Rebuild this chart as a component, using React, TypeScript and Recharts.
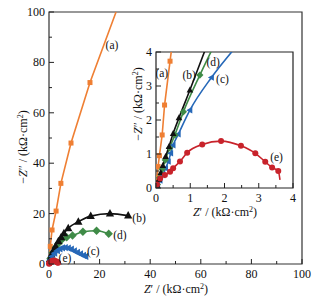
import { ComposedChart, Line, Scatter, XAxis, YAxis, ReferenceArea } from "recharts"

const FONT = "Liberation Serif, DejaVu Serif, Times New Roman, serif"

// main plot, Z' and -Z'' in kΩ·cm²
const aX = [0, 0.5, 1.2, 2.8, 4.7, 8.7, 16.2, 26.5]
const aY = [0, 7, 13.5, 21, 32, 48, 72, 100]
const bX = [0, 0.4, 1, 1.8, 2.6, 3.7, 4.8, 5.9, 7.6, 11.6, 16.5, 24.1, 31.3]
const bY = [0, 2, 3.8, 5.5, 7, 9, 10.6, 12.2, 14.2, 16.8, 19, 20, 19.2]
const cX = [0, 0.5, 1.2, 2.2, 3.3, 4.3, 5.3, 6.4, 7.6, 8.8, 10, 11.2, 12.4, 13.6, 14.5]
const cY = [0, 1.6, 3, 4.3, 5.3, 6, 6.4, 6.5, 6.3, 5.9, 5.2, 4.6, 4, 3.4, 3]
const dX = [0, 0.6, 1.5, 2.7, 3.8, 5, 7, 9.3, 13.4, 18.8, 23.6]
const dY = [0, 2.2, 4.5, 6.6, 8.2, 9.6, 10.6, 11.3, 12.8, 13.2, 12]

// inset (same units, zoomed on 0..4)
const aInX = [0, 0.03, 0.06, 0.1, 0.18, 0.25, 0.41, 0.47]
const aInY = [0, 0.3, 0.63, 0.95, 1.56, 2.44, 3.73, 4.2]
const bInX = [0.03, 0.08, 0.14, 0.2, 0.28, 0.38, 0.5, 0.67, 0.99, 1.45]
const bInY = [0.08, 0.25, 0.45, 0.66, 0.92, 1.22, 1.6, 2.06, 2.88, 4.1]
const cInX = [0.05, 0.12, 0.2, 0.28, 0.36, 0.43, 0.5, 0.65, 0.99, 1.62, 2.25]
const cInY = [0.08, 0.22, 0.38, 0.58, 0.78, 1.02, 1.26, 1.58, 2.29, 3.25, 4.05]
const dInX = [0.04, 0.1, 0.18, 0.27, 0.4, 0.55, 0.8, 1.28, 1.65]
const dInY = [0.1, 0.3, 0.55, 0.82, 1.18, 1.56, 2.24, 3.32, 4.1]
const eX = [0.03, 0.12, 0.26, 0.41, 0.5, 0.7, 0.91, 1.35, 1.9, 2.48, 2.9, 3.19, 3.39, 3.57, 3.62]
const eY = [0.1, 0.28, 0.38, 0.48, 0.58, 0.78, 1.04, 1.28, 1.38, 1.24, 1.02, 0.77, 0.6, 0.5, 0.24]

const labelT = ["(a)", "(b)", "(c)", "(d)", "(e)"]
const labelX = [24.9, 35.6, 17.5, 28, 6.3]
const labelY = [87, 18.4, 5, 11.5, 2.5]
const labelInX = [0.17, 0.97, 1.94, 1.67, 3.52]
const labelInY = [3.37, 3.32, 3.2, 3.71, 0.92]

const mainTicks = [0, 10, 20, 30, 40, 50, 60, 70, 80, 90, 100]
const insetTicks = [0, 0.5, 1, 1.5, 2, 2.5, 3, 3.5, 4]

const COLORS = { a: "#EF7F33", b: "#111111", c: "#2668B8", d: "#3F8B47", e: "#C8232B" }

const zip = (xs: number[], ys: number[]) => xs.map((x, i) => ({ x, y: ys[i] }))

function marker(shape: string, color: string, s: number, skip: number[] = []) {
  return (p: any) => {
    const { cx, cy, index } = p
    if (skip.includes(index) || cx == null || cy == null) return <g key={index} />
    if (shape === "square")
      return <rect key={index} x={cx - s / 2} y={cy - s / 2} width={s} height={s} fill={color} />
    if (shape === "up")
      return <polygon key={index} points={`${cx},${cy - s * 0.6} ${cx - s * 0.55},${cy + s * 0.4} ${cx + s * 0.55},${cy + s * 0.4}`} fill={color} />
    if (shape === "left")
      return <polygon key={index} points={`${cx - s * 0.6},${cy} ${cx + s * 0.4},${cy - s * 0.55} ${cx + s * 0.4},${cy + s * 0.55}`} fill={color} />
    if (shape === "diamond")
      return <polygon key={index} points={`${cx},${cy - s * 0.6} ${cx + s * 0.6},${cy} ${cx},${cy + s * 0.6} ${cx - s * 0.6},${cy}`} fill={color} />
    return <circle key={index} cx={cx} cy={cy} r={s / 2} fill={color} />
  }
}

const near = (v: number, step: number) => Math.abs(v / step - Math.round(v / step)) < 1e-6

function BottomTick({ x, y, payload, major }: any) {
  const isMajor = near(payload.value, major)
  return (
    <g>
      <line x1={x} y1={y} x2={x} y2={y - (isMajor ? 5 : 3)} stroke="#222" />
      {isMajor && (
        <text x={x} y={y + 14} textAnchor="middle" style={{ fontSize: 12, fontFamily: FONT }} fill="#111">
          {payload.value}
        </text>
      )}
    </g>
  )
}

function LeftTick({ x, y, payload, major }: any) {
  const isMajor = near(payload.value, major)
  return (
    <g>
      <line x1={x} y1={y} x2={x + (isMajor ? 5 : 3)} y2={y} stroke="#222" />
      {isMajor && (
        <text x={x - 4} y={y + 4} textAnchor="end" style={{ fontSize: 12, fontFamily: FONT }} fill="#111">
          {payload.value}
        </text>
      )}
    </g>
  )
}

const SeriesLabel = (p: any) => (
  <text x={p.cx} y={p.cy + 4} textAnchor="middle" style={{ fontSize: 11.5, fontFamily: FONT }} fill="#111">
    {p.payload.t}
  </text>
)

const Unit = () => (
  <span>
    (kΩ·cm<sup style={{ fontSize: 8, verticalAlign: "top", lineHeight: 1 }}>2</sup>)
  </span>
)

const titleStyle: any = {
  position: "absolute",
  fontFamily: FONT,
  fontSize: 12,
  color: "#111",
  whiteSpace: "nowrap",
  lineHeight: 1,
}

export default function App() {
  const mainLabels = labelT.map((t, i) => ({ x: labelX[i], y: labelY[i], t }))
  const insetLabels = labelT.map((t, i) => ({ x: labelInX[i], y: labelInY[i], t }))

  return (
    <div style={{ position: "fixed", left: 0, top: 0, width: 317, height: 302, background: "#fff", fontFamily: FONT }}>
      <div style={{ position: "absolute", left: 0, top: 0 }}>
        <ComposedChart width={317} height={302} margin={{ top: 12, right: 15, bottom: 0, left: 0 }}>
          <XAxis
            type="number"
            dataKey="x"
            domain={[0, 100]}
            ticks={mainTicks}
            interval={0}
            height={38}
            axisLine={false}
            tickLine={false}
            tickSize={0}
            tickMargin={0}
            tick={(p: any) => <BottomTick {...p} major={20} />}
          />
          <YAxis
            type="number"
            dataKey="y"
            domain={[0, 100]}
            ticks={mainTicks}
            interval={0}
            width={49}
            axisLine={false}
            tickLine={false}
            tickSize={0}
            tickMargin={0}
            tick={(p: any) => <LeftTick {...p} major={20} />}
          />
          <ReferenceArea x1={0} x2={100} y1={0} y2={100} fill="none" stroke="#333" strokeWidth={1.2} />
          <Line data={zip(aX, aY)} dataKey="y" type="linear" stroke={COLORS.a} strokeWidth={1.6}
            dot={marker("square", COLORS.a, 5, [0, 7])} activeDot={false} isAnimationActive={false} />
          <Line data={zip(dX, dY)} dataKey="y" type="monotone" stroke={COLORS.d} strokeWidth={1.6}
            dot={marker("diamond", COLORS.d, 7, [0])} activeDot={false} isAnimationActive={false} />
          <Line data={zip(bX, bY)} dataKey="y" type="monotone" stroke={COLORS.b} strokeWidth={1.6}
            dot={marker("up", COLORS.b, 7.5, [0])} activeDot={false} isAnimationActive={false} />
          <Line data={zip(cX, cY)} dataKey="y" type="monotone" stroke={COLORS.c} strokeWidth={1.6}
            dot={marker("left", COLORS.c, 6.5, [0])} activeDot={false} isAnimationActive={false} />
          <Line data={zip(eX, eY)} dataKey="y" type="monotone" stroke={COLORS.e} strokeWidth={1.6}
            dot={marker("circle", COLORS.e, 6, [14])} activeDot={false} isAnimationActive={false} />
          <Scatter data={mainLabels} shape={SeriesLabel} isAnimationActive={false} />
        </ComposedChart>
      </div>

      <div style={{ position: "absolute", left: 130, top: 40 }}>
        <ComposedChart width={175} height={185} margin={{ top: 12, right: 12, bottom: 0, left: 0 }}>
          <XAxis
            type="number"
            dataKey="x"
            domain={[0, 4]}
            ticks={insetTicks}
            interval={0}
            height={37}
            axisLine={false}
            tickLine={false}
            tickSize={0}
            tickMargin={0}
            allowDataOverflow
            tick={(p: any) => <BottomTick {...p} major={1} />}
          />
          <YAxis
            type="number"
            dataKey="y"
            domain={[0, 4]}
            ticks={insetTicks}
            interval={0}
            width={26}
            axisLine={false}
            tickLine={false}
            tickSize={0}
            tickMargin={0}
            allowDataOverflow
            tick={(p: any) => <LeftTick {...p} major={1} />}
          />
          <ReferenceArea x1={0} x2={4} y1={0} y2={4} fill="none" stroke="#222" strokeWidth={1.2} />
          <Line data={zip(aInX, aInY)} dataKey="y" type="linear" stroke={COLORS.a} strokeWidth={1.6}
            dot={marker("square", COLORS.a, 5, [0, 7])} activeDot={false} isAnimationActive={false} />
          <Line data={zip(cInX, cInY)} dataKey="y" type="monotone" stroke={COLORS.c} strokeWidth={1.6}
            dot={marker("left", COLORS.c, 6, [10])} activeDot={false} isAnimationActive={false} />
          <Line data={zip(dInX, dInY)} dataKey="y" type="monotone" stroke={COLORS.d} strokeWidth={1.6}
            dot={marker("diamond", COLORS.d, 6, [8])} activeDot={false} isAnimationActive={false} />
          <Line data={zip(bInX, bInY)} dataKey="y" type="monotone" stroke={COLORS.b} strokeWidth={1.6}
            dot={marker("up", COLORS.b, 6, [9])} activeDot={false} isAnimationActive={false} />
          <Line data={zip(eX, eY)} dataKey="y" type="monotone" stroke={COLORS.e} strokeWidth={1.6}
            dot={marker("circle", COLORS.e, 6, [14])} activeDot={false} isAnimationActive={false} />
          <Scatter data={insetLabels} shape={SeriesLabel} isAnimationActive={false} />
        </ComposedChart>
      </div>

      {/* axis titles */}
      <div style={{ ...titleStyle, left: 176, top: 289, transform: "translate(-50%, -50%)" }}>
        <i>Z</i>′ / <Unit />
      </div>
      <div style={{ ...titleStyle, left: 23, top: 147, transform: "translate(-50%, -50%) rotate(-90deg)" }}>
        −<i>Z</i>″ / <Unit />
      </div>
      <div style={{ ...titleStyle, left: 225, top: 212, transform: "translate(-50%, -50%)" }}>
        <i>Z</i>′ / <Unit />
      </div>
      <div style={{ ...titleStyle, left: 138, top: 104, transform: "translate(-50%, -50%) rotate(-90deg)" }}>
        −<i>Z</i>″ / <Unit />
      </div>
    </div>
  )
}
